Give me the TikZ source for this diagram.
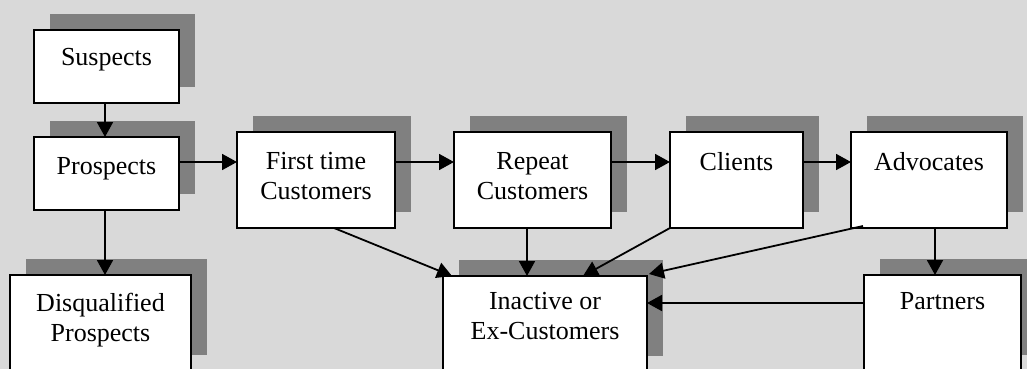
\documentclass[tikz,border=0pt]{standalone}
\usepackage{fontspec}
\setmainfont{Liberation Serif}
\usetikzlibrary{arrows.meta,calc,shadows}
\definecolor{bggray}{RGB}{217,217,217}
\definecolor{shgray}{RGB}{128,128,128}
\begin{document}
\begin{tikzpicture}[x=1pt,y=-1pt,
  box/.style={draw=black, line width=1.8pt, fill=white, rectangle, inner sep=0pt, outer sep=0pt, anchor=north west,
    drop shadow={shadow xshift=16pt, shadow yshift=16pt, fill=shgray, opacity=1}},
  lbl/.style={anchor=north, align=center, inner sep=0pt, font=\fontsize{26}{30}\selectfont},
  arr/.style={line width=1.8pt, -{Triangle[length=15pt,width=16pt]}},
  ln/.style={line width=1.8pt}]
\useasboundingbox (0,0) rectangle (1027,369);
\clip (0,0) rectangle (1027,369);
\fill[bggray] (0,0) rectangle (1027,369);

% boxes
\node[box, minimum width=145pt, minimum height=73pt] (sus) at (34,30) {};
\node[box, minimum width=145pt, minimum height=73pt] (pro) at (34,137) {};
\node[box, minimum width=181pt, minimum height=96pt] (dis) at (10,275) {};
\node[box, minimum width=158pt, minimum height=96pt] (ft) at (237,132) {};
\node[box, minimum width=157pt, minimum height=96pt] (rep) at (454,132) {};
\node[box, minimum width=133pt, minimum height=96pt] (cli) at (670,132) {};
\node[box, minimum width=156pt, minimum height=96pt] (adv) at (851,132) {};
\node[box, minimum width=204pt, minimum height=96pt] (ina) at (443,276) {};
\node[box, minimum width=157pt, minimum height=96pt] (par) at (864,275) {};

% labels
\node[lbl] (sust) at ($(sus.north)+(0,18)$) {Suspects};
\node[lbl] (prot) at ($(pro.north)+(0,20)$) {Prospects};
\node[lbl] (dist) at ($(dis.north)+(0,18)$) {Disqualified\\Prospects};
\node[lbl] (ftt) at ($(ft.north)+(0,20)$) {First time\\Customers};
\node[lbl] (rept) at ($(rep.north)+(0,20)$) {Repeat\\Customers};
\node[lbl] (clit) at ($(cli.north)+(0,20)$) {Clients};
\node[lbl] (advt) at ($(adv.north)+(0,20)$) {Advocates};
\node[lbl] (inat) at ($(ina.north)+(0,16)$) {Inactive or\\Ex-Customers};
\node[lbl] (part) at ($(par.north)+(0,17)$) {Partners};

% connectors
\draw[arr] ($(sus.south west)+(71,0)$) -- ($(pro.north west)+(71,0)$);
\draw[arr] ($(pro.north east)+(0,25)$) -- ($(ft.north west)+(0,30)$);
\draw[arr] ($(ft.north east)+(0,30)$) -- ($(rep.north west)+(0,30)$);
\draw[arr] ($(rep.north east)+(0,30)$) -- ($(cli.north west)+(0,30)$);
\draw[arr] ($(cli.north east)+(0,30)$) -- ($(adv.north west)+(0,30)$);
\draw[arr] ($(pro.south west)+(71,0)$) -- ($(dis.north west)+(95,0)$);
\draw[arr] ($(ft.south west)+(97,0)$) -- ($(ina.north west)+(9,0)$);
\draw[arr] ($(rep.south west)+(73,0)$) -- ($(ina.north west)+(84,0)$);
\draw[arr] (cli.south west) -- ($(ina.north west)+(140,0)$);
\draw[arr] ($(adv.south west)+(12,-2)$) -- ($(ina.north east)+(2,-2)$);
\draw[arr] ($(adv.south west)+(84,0)$) -- ($(par.north west)+(71,0)$);
\draw[arr] ($(par.north west)+(0,28)$) -- ($(ina.north east)+(0,27)$);
\end{tikzpicture}
\end{document}
